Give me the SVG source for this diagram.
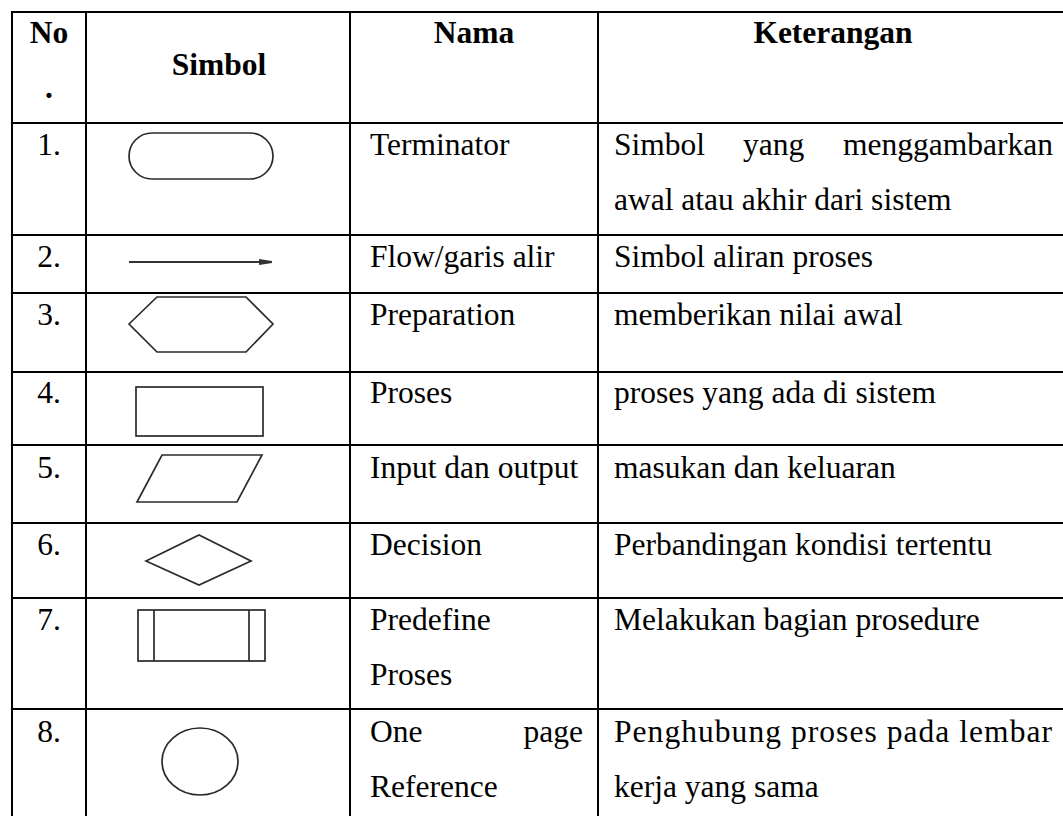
<svg xmlns="http://www.w3.org/2000/svg" width="1063" height="816" viewBox="0 0 1063 816">
<style>
.grid{stroke:#000;stroke-width:2;fill:none}
.sym{fill:#fff;stroke:#2a2a2a;stroke-width:1.7}
.t{font-family:"Liberation Serif","Times New Roman",serif;font-size:31.5px;fill:#000}
.b{font-weight:bold}
.c{text-anchor:middle}
.e{text-anchor:end}
</style>
<rect width="1063" height="816" fill="#fff"/>
<g id="grid" class="grid">
<line x1="12" y1="12" x2="1063" y2="12"/>
<line x1="12" y1="123" x2="1063" y2="123"/>
<line x1="12" y1="235" x2="1063" y2="235"/>
<line x1="12" y1="293" x2="1063" y2="293"/>
<line x1="12" y1="372" x2="1063" y2="372"/>
<line x1="12" y1="445" x2="1063" y2="445"/>
<line x1="12" y1="523" x2="1063" y2="523"/>
<line x1="12" y1="598" x2="1063" y2="598"/>
<line x1="12" y1="709" x2="1063" y2="709"/>
<line x1="12" y1="11" x2="12" y2="816"/>
<line x1="86" y1="11" x2="86" y2="816"/>
<line x1="350" y1="11" x2="350" y2="816"/>
<line x1="598" y1="11" x2="598" y2="816"/>
</g>
<g id="header" class="t b">
<text x="49" y="43" class="c">No</text>
<text x="49" y="98" class="c">.</text>
<text x="219" y="75" class="c">Simbol</text>
<text x="474" y="43" class="c">Nama</text>
<text x="833" y="43" class="c">Keterangan</text>
</g>
<g id="row1">
<rect class="sym" x="129" y="133" width="144" height="46" rx="23" ry="23"/>
<text class="t c" x="49" y="155">1.</text>
<text class="t" x="370" y="155">Terminator</text>
<text class="t" x="614" y="155">Simbol</text>
<text class="t" x="743" y="155">yang</text>
<text class="t e" x="1053" y="155">menggambarkan</text>
<text class="t" x="614" y="210">awal atau akhir dari sistem</text>
</g>
<g id="row2">
<line x1="129" y1="262" x2="262" y2="262" stroke="#333" stroke-width="1.8"/>
<polygon points="259,259 272,261 272,263 259,265" fill="#333"/>
<text class="t c" x="49" y="267">2.</text>
<text class="t" x="370" y="267">Flow/garis alir</text>
<text class="t" x="614" y="267">Simbol aliran proses</text>
</g>
<g id="row3">
<polygon class="sym" points="129,324 157,297 246,297 273,324 246,352 157,352"/>
<text class="t c" x="49" y="325">3.</text>
<text class="t" x="370" y="325">Preparation</text>
<text class="t" x="614" y="325">memberikan nilai awal</text>
</g>
<g id="row4">
<rect class="sym" x="136" y="387" width="127" height="49"/>
<text class="t c" x="49" y="403">4.</text>
<text class="t" x="370" y="403">Proses</text>
<text class="t" x="614" y="403">proses yang ada di sistem</text>
</g>
<g id="row5">
<polygon class="sym" points="162,455 262,455 237,502 137,502"/>
<text class="t c" x="49" y="478">5.</text>
<text class="t" x="370" y="478">Input dan output</text>
<text class="t" x="614" y="478">masukan dan keluaran</text>
</g>
<g id="row6">
<polygon class="sym" points="146,561 199,535 251,561 199,585"/>
<text class="t c" x="49" y="555">6.</text>
<text class="t" x="370" y="555">Decision</text>
<text class="t" x="614" y="555">Perbandingan kondisi tertentu</text>
</g>
<g id="row7">
<rect class="sym" x="138" y="610" width="127" height="51"/>
<line class="sym" x1="154" y1="610" x2="154" y2="661"/>
<line class="sym" x1="249" y1="610" x2="249" y2="661"/>
<text class="t c" x="49" y="630">7.</text>
<text class="t" x="370" y="630">Predefine</text>
<text class="t" x="370" y="685">Proses</text>
<text class="t" x="614" y="630">Melakukan bagian prosedure</text>
</g>
<g id="row8">
<ellipse class="sym" cx="200" cy="761.5" rx="38" ry="33.5"/>
<text class="t c" x="49" y="742">8.</text>
<text class="t" x="370" y="742">One</text>
<text class="t e" x="583" y="742">page</text>
<text class="t" x="370" y="797">Reference</text>
<text class="t" x="614" y="742" textLength="438" lengthAdjust="spacing">Penghubung proses pada lembar</text>
<text class="t" x="614" y="797">kerja yang sama</text>
</g>
</svg>
